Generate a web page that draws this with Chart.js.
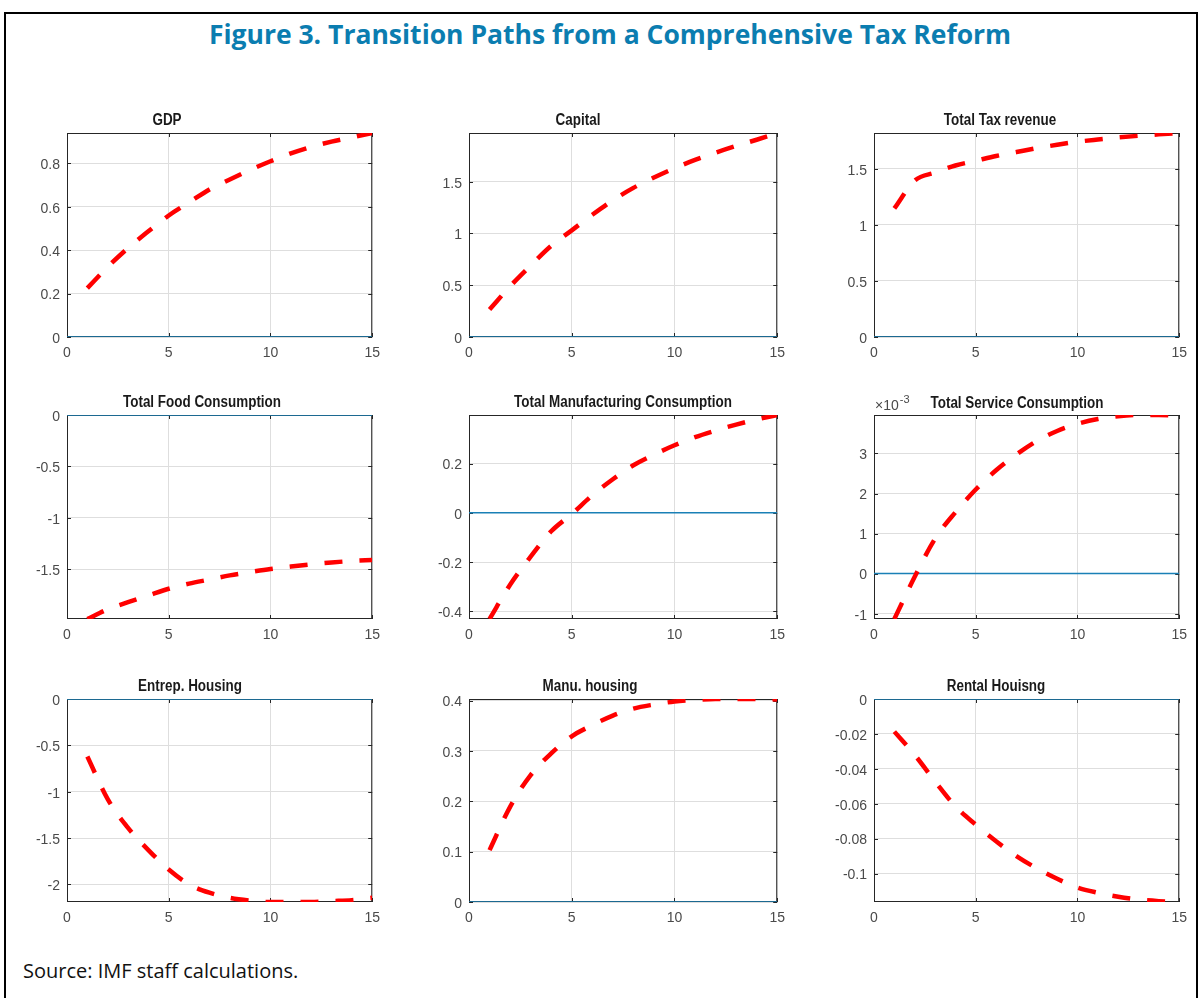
<!DOCTYPE html>
<html>
<head>
<meta charset="utf-8">
<title>Transition Paths from a Comprehensive Tax Reform</title>
<script src="https://cdn.jsdelivr.net/npm/chart.js@4.4.0/dist/chart.umd.min.js"></script>
<style>
  html, body { margin: 0; padding: 0; background: #fff; overflow: hidden; }
  body { width: 1199px; height: 998px; position: relative; }
  #frame { position: absolute; left: 4px; top: 12px; width: 1190px; height: 1010px;
           border: 2px solid #000; border-bottom: none; }
  #fig-title { position: absolute; left: 0; top: 16px; width: 1220px; text-align: center;
               font: bold 26.5px "Open Sans", sans-serif; color: #0b7db0; }
  #source { position: absolute; left: 23px; top: 957px; font: 20px "Open Sans", sans-serif; color: #111; }
  canvas.panel { position: absolute; }
</style>
</head>
<body>
<div id="frame"></div>
<div id="fig-title">Figure 3. Transition Paths from a Comprehensive Tax Reform</div>
<div id="source">Source: IMF staff calculations.</div>

<script>
// periods after the reform
const periods = [1, 2, 3, 4, 5, 6, 7, 8, 9, 10, 11, 12, 13, 14, 15];
const xTicks = [0, 5, 10, 15];

// steady state (zero deviation) reference line
const steadyX = [0, 15];
const steadyY = [0, 0];

// deviations from the initial steady state
const gdp = [0.225, 0.323, 0.41, 0.487, 0.56, 0.62, 0.68, 0.726, 0.77, 0.81, 0.846, 0.876, 0.90, 0.92, 0.94];
const capital = [0.265, 0.49, 0.69, 0.88, 1.03, 1.18, 1.32, 1.44, 1.54, 1.63, 1.71, 1.78, 1.845, 1.905, 1.97];
const taxRevenue = [1.147, 1.395, 1.467, 1.53, 1.572, 1.615, 1.65, 1.685, 1.715, 1.742, 1.762, 1.78, 1.795, 1.808, 1.82];
const foodCons = [-1.984, -1.89, -1.82, -1.755, -1.69, -1.64, -1.60, -1.56, -1.528, -1.498, -1.474, -1.452, -1.434, -1.42, -1.41];
const manufCons = [-0.431, -0.292, -0.178, -0.075, -0.005, 0.071, 0.136, 0.193, 0.236, 0.274, 0.307, 0.334, 0.358, 0.379, 0.397];
const serviceCons = [-1.133, -0.08, 0.87, 1.53, 2.10, 2.58, 2.975, 3.31, 3.56, 3.74, 3.86, 3.93, 3.96, 3.96, 3.94]; // x 10^-3
const entrepHousing = [-0.62, -1.08, -1.39, -1.63, -1.84, -2.0, -2.09, -2.145, -2.175, -2.19, -2.19, -2.19, -2.18, -2.17, -2.145];
const manuHousing = [0.103, 0.189, 0.252, 0.295, 0.329, 0.351, 0.370, 0.384, 0.392, 0.398, 0.401, 0.403, 0.403, 0.403, 0.402];
const rentalHousing = [-0.0187, -0.032, -0.0472, -0.0615, -0.072, -0.0815, -0.090, -0.097, -0.103, -0.108, -0.111, -0.1133, -0.1149, -0.1158, -0.1163];

// y limits and tick labels
const gdpRange = [0, 0.94],           gdpTicks = [0, 0.2, 0.4, 0.6, 0.8];
const capitalRange = [0, 1.97],       capitalTicks = [0, 0.5, 1, 1.5];
const taxRange = [0, 1.82],           taxTicks = [0, 0.5, 1, 1.5];
const foodRange = [-1.984, 0],        foodTicks = [-1.5, -1, -0.5, 0];
const manufRange = [-0.431, 0.397],   manufTicks = [-0.4, -0.2, 0, 0.2];
const serviceRange = [-1.133, 3.96],  serviceTicks = [-1, 0, 1, 2, 3];
const entrepRange = [-2.19, 0],       entrepTicks = [-2, -1.5, -1, -0.5, 0];
const manuHRange = [0, 0.403],        manuHTicks = [0, 0.1, 0.2, 0.3, 0.4];
const rentalRange = [-0.1163, 0],     rentalTicks = [-0.1, -0.08, -0.06, -0.04, -0.02, 0];

// plot area edges on the page
const cols = [[67, 373], [469, 778], [874, 1180]];
const rows = [[133, 337], [415, 619], [699, 902]];

const panels = [
    { title: 'GDP', values: gdp, range: gdpRange, ticks: gdpTicks, col: 0, row: 0, tx: 167, ty: 121 },
    { title: 'Capital', values: capital, range: capitalRange, ticks: capitalTicks, col: 1, row: 0, tx: 578, ty: 121 },
    { title: 'Total Tax revenue', values: taxRevenue, range: taxRange, ticks: taxTicks, col: 2, row: 0, tx: 1000, ty: 121 },
    { title: 'Total Food Consumption', values: foodCons, range: foodRange, ticks: foodTicks, col: 0, row: 1, tx: 202, ty: 403 },
    { title: 'Total Manufacturing Consumption', values: manufCons, range: manufRange, ticks: manufTicks, col: 1, row: 1, tx: 623, ty: 403 },
    { title: 'Total Service Consumption', values: serviceCons, range: serviceRange, ticks: serviceTicks, col: 2, row: 1, tx: 1017, ty: 404, exponent: '-3' },
    { title: 'Entrep. Housing', values: entrepHousing, range: entrepRange, ticks: entrepTicks, col: 0, row: 2, tx: 190, ty: 687 },
    { title: 'Manu. housing', values: manuHousing, range: manuHRange, ticks: manuHTicks, col: 1, row: 2, tx: 590, ty: 687 },
    { title: 'Rental Houisng', values: rentalHousing, range: rentalRange, ticks: rentalTicks, col: 2, row: 2, tx: 996, ty: 687 }
];

const padTop = 50, padRight = 15, yAxisW = 60, xAxisH = 35;
const gridColor = '#dedede';
const tickColor = '#4a4a4a';
const tickFont = { family: '"Liberation Sans", Arial, sans-serif', size: 14 };
const titleFont = 'bold 16px "Liberation Sans", Arial, sans-serif';
const titleSqueeze = 0.84; // panel titles are set narrow

function fmt(v) {
    return String(Math.round(v * 1e6) / 1e6);
}//fmt

// box around the axes with short inward tick marks on every side
const axesBox = {
    id: 'axesBox',
    beforeDatasetsDraw(chart) {
        const {ctx, chartArea: a, scales} = chart;
        ctx.save();
        ctx.strokeStyle = '#262626';
        ctx.lineWidth = 1;
        ctx.strokeRect(a.left + 0.5, a.top + 0.5, a.width - 1, a.height - 1);
        ctx.beginPath();
        scales.y.ticks.forEach(t => {
            const y = Math.round(scales.y.getPixelForValue(t.value)) + 0.5;
            ctx.moveTo(a.left, y); ctx.lineTo(a.left + 4, y);
            ctx.moveTo(a.right, y); ctx.lineTo(a.right - 4, y);
        });
        scales.x.ticks.forEach(t => {
            const x = Math.round(scales.x.getPixelForValue(t.value)) + 0.5;
            ctx.moveTo(x, a.bottom); ctx.lineTo(x, a.bottom - 4);
            ctx.moveTo(x, a.top); ctx.lineTo(x, a.top + 4);
        });
        ctx.stroke();
        ctx.restore();
    }
};//axesBox

function panelTitle(p, left, top) {
    return {
        id: 'panelTitle',
        afterDraw(chart) {
            const ctx = chart.ctx;
            ctx.save();
            ctx.font = titleFont;
            ctx.fillStyle = '#1a1a1a';
            ctx.textAlign = 'center';
            ctx.textBaseline = 'middle';
            ctx.translate(p.tx - left, p.ty - top);
            ctx.scale(titleSqueeze, 1);
            ctx.fillText(p.title, 0, 0);
            ctx.restore();

            if (p.exponent) {
                // axis multiplier above the y axis
                const x0 = chart.chartArea.left + 1, y0 = chart.chartArea.top - 5;
                ctx.save();
                ctx.textAlign = 'left';
                ctx.textBaseline = 'alphabetic';
                ctx.fillStyle = tickColor;
                ctx.font = '14px "Liberation Sans", Arial, sans-serif';
                ctx.fillText('\u00d710', x0, y0);
                const w = ctx.measureText('\u00d710').width;
                ctx.font = '11px "Liberation Sans", Arial, sans-serif';
                ctx.fillText(p.exponent, x0 + w + 1, y0 - 7);
                ctx.restore();
            }
        }
    };
}//panelTitle

function makeChart(p) {
    const [L, R] = cols[p.col];
    const [T, B] = rows[p.row];
    const left = L - yAxisW, top = T - padTop;

    const canvas = document.createElement('canvas');
    canvas.className = 'panel';
    canvas.width = R - L + yAxisW + padRight;
    canvas.height = B - T + padTop + xAxisH;
    canvas.style.left = left + 'px';
    canvas.style.top = top + 'px';
    document.body.appendChild(canvas);

    const config = {
        type: 'line',
        data: {
            datasets: [{
                data: periods.map((x, i) => ({ x: x, y: p.values[i] })),
                borderColor: '#ff0000',
                borderWidth: 4.5,
                borderDash: [18, 17],
                borderCapStyle: 'butt',
                pointRadius: 0,
                cubicInterpolationMode: 'monotone'
            }, {
                data: steadyX.map((x, i) => ({ x: x, y: steadyY[i] })),
                borderColor: '#1a80b6',
                borderWidth: 1.5,
                pointRadius: 0
            }]
        },
        options: {
            responsive: false,
            animation: false,
            events: [],
            layout: { padding: { top: padTop, right: padRight, left: 0, bottom: 0 } },
            plugins: { legend: { display: false }, tooltip: { enabled: false } },
            scales: {
                x: {
                    type: 'linear', min: 0, max: 15,
                    afterBuildTicks: s => { s.ticks = xTicks.map(v => ({ value: v })); },
                    afterFit: s => { s.height = xAxisH; },
                    grid: { color: gridColor, drawTicks: false },
                    border: { display: false },
                    ticks: { font: tickFont, color: tickColor, padding: 8, maxRotation: 0, callback: v => fmt(v) }
                },
                y: {
                    type: 'linear', min: p.range[0], max: p.range[1],
                    afterBuildTicks: s => { s.ticks = p.ticks.map(v => ({ value: v })); },
                    afterFit: s => { s.width = yAxisW; },
                    grid: { color: gridColor, drawTicks: false },
                    border: { display: false },
                    ticks: { font: tickFont, color: tickColor, padding: 7, labelOffset: 2, callback: v => fmt(v) }
                }
            }
        },
        plugins: [axesBox, panelTitle(p, left, top)]
    };//config

    return new Chart(canvas, config);
}//makeChart

panels.forEach(makeChart);
</script>
</body>
</html>
